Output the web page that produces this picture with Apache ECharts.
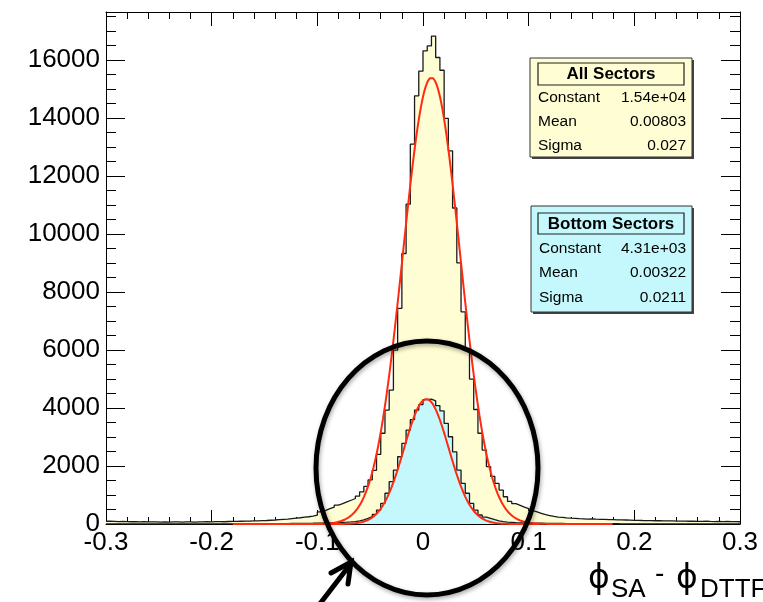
<!DOCTYPE html>
<html>
<head>
<meta charset="utf-8">
<script src="https://cdn.jsdelivr.net/npm/echarts@6/dist/echarts.min.js"></script>
<style>
  html, body { margin: 0; padding: 0; background: #ffffff; }
  #chart { width: 763px; height: 602px; }
</style>
</head>
<body>
<div id="chart"></div>
<script>
// Histogram binning: 150 bins of width 0.004 over [-0.3, 0.3]
const histRange = [-0.3, 0.3];
const nBins = 150;

// Entries per bin, all sectors
const allSectors = [
  95, 88, 80, 92, 85, 78, 82, 75, 80, 72, 70, 76, 68, 72, 65, 70, 74, 66, 70, 72, 68, 75, 70, 78, 74,
  80, 84, 78, 86, 90, 88, 95, 100, 98, 105, 110, 115, 120,
  130, 138, 150, 160, 170, 185, 200,
  215, 235, 250, 275, 310,
  420, 470, 530, 580, 650, 700, 760, 820, 880, 960,
  1110, 1300, 1520, 1850, 2400, 3130, 3930, 4620,
  6000, 7440, 9330, 11030, 13100, 14770, 15620, 16320, 16490, 16830, 16090, 15650, 13990, 12870, 10900, 9010, 7320,
  6050, 5000, 3950, 3130, 2550, 1980, 1640, 1400, 1170, 940, 780, 700, 640, 580, 530, 460, 420, 370, 320, 290, 260,
  240, 225, 210, 200, 195, 185, 180, 170, 172, 165, 160,
  158, 150, 148, 145, 140, 138, 135, 128,
  125, 120, 118, 115, 112, 118, 110, 105, 108, 100, 102, 98, 95, 100, 92, 90, 95, 88, 85, 90, 84, 86, 80, 82, 78
];

// Entries per bin, bottom sectors only
const bottomSectors = [
  2, 1, 3, 0, 2, 1, 2, 3, 1, 2, 2, 3, 1, 2, 3, 2, 3, 4, 2, 3, 3, 4, 3, 5, 4,
  5, 4, 6, 5, 6, 7, 6, 8, 7, 8, 9, 10, 9,
  11, 12, 12, 14, 15, 17, 18,
  20, 22, 25, 27, 30,
  32, 36, 40, 44, 50, 56, 62, 70,
  80, 105, 145, 195, 255, 330, 480, 710, 1060, 1460, 1860, 2320, 2780, 3240, 3600, 3930, 4120,
  4290, 4310, 4250, 4080, 3900, 3470, 3010, 2490, 1860, 1400, 1060, 710, 480, 310, 240, 195, 150, 110, 80,
  62, 55, 48, 42, 38, 34,
  30, 28, 26, 24, 22, 20, 19, 18, 16, 15,
  14, 13, 12, 12, 11, 10, 10, 9, 8, 9, 8, 7, 7, 6, 6,
  5, 6, 5, 4, 5, 4, 4, 3, 4, 3, 3, 4, 2, 3, 2, 3, 2, 2, 3, 1, 2, 2, 1, 2, 1
];

// Gaussian fit results: [constant, mean, sigma] and the fitted x range
const allFitPars = [1.54e4, 0.00803, 0.027];
const allFitRange = [-0.18, 0.18];
const bottomFitPars = [4.31e3, 0.00322, 0.0211];
const bottomFitRange = [-0.12, 0.11];

// Text shown in the statistics boxes
const statNames = ['Constant', 'Mean', 'Sigma'];
const allStatValues = ['1.54e+04', '0.00803', '0.027'];
const bottomStatValues = ['4.31e+03', '0.00322', '0.0211'];

// Axis tick labels
const xTickLabels = ['-0.3', '-0.2', '-0.1', '0', '0.1', '0.2', '0.3'];
const yTickLabels = ['0', '2000', '4000', '6000', '8000', '10000', '12000', '14000', '16000'];

const FONT = '"Liberation Sans", Arial, Helvetica, sans-serif';
const PHI_FONT = '"DejaVu Sans", "Liberation Sans", sans-serif';
const YELLOW = '#fffdd3';
const CYAN = '#c5f8fc';
const FIT_RED = '#ff2a10';

// Step outline points: one point at each bin's lower edge plus the final upper edge
function stepPoints(counts) {
  const w = (histRange[1] - histRange[0]) / nBins;
  const pts = counts.map((c, i) => [histRange[0] + i * w, c]);
  pts.push([histRange[1], counts[counts.length - 1]]);
  return pts;
}

function gaussCurve(pars, range) {
  const pts = [];
  const n = 600;
  for (let k = 0; k <= n; k++) {
    const x = range[0] + (range[1] - range[0]) * k / n;
    const t = (x - pars[1]) / pars[2];
    pts.push([x, pars[0] * Math.exp(-0.5 * t * t)]);
  }
  return pts;
}

function statBox(x, y, w, h, fill, title, values, rowY, titleY, titleRect) {
  const els = [];
  els.push({ type: 'rect', shape: { x: x + 2, y: y + 2, width: w, height: h }, style: { fill: '#444' }, z: 100 });
  els.push({ type: 'rect', shape: { x: x, y: y, width: w, height: h }, style: { fill: fill, stroke: '#333', lineWidth: 1 }, z: 101 });
  els.push({ type: 'rect', shape: titleRect, style: { fill: fill, stroke: '#222', lineWidth: 1.2 }, z: 102 });
  els.push({ type: 'text', x: titleRect.x + titleRect.width / 2, y: titleY, z: 103,
    style: { text: title, font: 'bold 17px ' + FONT, fill: '#000', align: 'center', verticalAlign: 'middle' } });
  statNames.forEach((name, i) => {
    els.push({ type: 'text', x: x + 8, y: rowY[i], z: 103,
      style: { text: name, font: '15.5px ' + FONT, fill: '#000', align: 'left', verticalAlign: 'middle' } });
    els.push({ type: 'text', x: x + w - 6, y: rowY[i], z: 103,
      style: { text: values[i], font: '15.5px ' + FONT, fill: '#000', align: 'right', verticalAlign: 'middle' } });
  });
  return els;
}

const chart = echarts.init(document.getElementById('chart'), null, { renderer: 'canvas' });

const axisLineStyle = { color: '#000', width: 1 };

const option = {
  animation: false,
  backgroundColor: '#ffffff',
  grid: { left: 106, right: 23, top: 12, bottom: 78, containLabel: false },
  xAxis: [
    {
      type: 'value', min: -0.3, max: 0.3, interval: 0.1, position: 'bottom',
      axisLine: { show: true, onZero: false, lineStyle: axisLineStyle },
      axisTick: { show: true, inside: true, length: 14, lineStyle: axisLineStyle },
      minorTick: { show: true, splitNumber: 5, length: 7, lineStyle: axisLineStyle },
      splitLine: { show: false },
      axisLabel: {
        margin: 6, fontSize: 26, fontFamily: FONT, color: '#000',
        formatter: v => xTickLabels[Math.round((v - histRange[0]) / 0.1)] || ''
      }
    },
    {
      type: 'value', min: -0.3, max: 0.3, interval: 0.1, position: 'top',
      axisLine: { show: true, onZero: false, lineStyle: axisLineStyle },
      axisTick: { show: true, inside: true, length: 14, lineStyle: axisLineStyle },
      minorTick: { show: true, splitNumber: 5, length: 7, lineStyle: axisLineStyle },
      splitLine: { show: false },
      axisLabel: { show: false }
    }
  ],
  yAxis: [
    {
      type: 'value', min: 0, max: 17660, interval: 2000, position: 'left',
      axisLine: { show: true, onZero: false, lineStyle: axisLineStyle },
      axisTick: { show: true, inside: true, length: 19, lineStyle: axisLineStyle },
      minorTick: { show: true, splitNumber: 4, length: 10, lineStyle: axisLineStyle },
      splitLine: { show: false },
      axisLabel: {
        margin: 6, fontSize: 26, fontFamily: FONT, color: '#000',
        formatter: v => (v % 2000 === 0 && v / 2000 < yTickLabels.length) ? yTickLabels[v / 2000] : ''
      }
    },
    {
      type: 'value', min: 0, max: 17660, interval: 2000, position: 'right',
      axisLine: { show: true, onZero: false, lineStyle: axisLineStyle },
      axisTick: { show: true, inside: true, length: 19, lineStyle: axisLineStyle },
      minorTick: { show: true, splitNumber: 4, length: 10, lineStyle: axisLineStyle },
      splitLine: { show: false },
      axisLabel: { show: false }
    }
  ],
  series: [
    {
      name: 'All Sectors', type: 'line', step: 'end', data: stepPoints(allSectors),
      symbol: 'none', xAxisIndex: 0, yAxisIndex: 0, z: 2,
      lineStyle: { color: '#1a1a1a', width: 1.3 },
      areaStyle: { color: YELLOW, opacity: 1 }
    },
    {
      name: 'Bottom Sectors', type: 'line', step: 'end', data: stepPoints(bottomSectors),
      symbol: 'none', xAxisIndex: 0, yAxisIndex: 0, z: 3,
      lineStyle: { color: '#1a1a1a', width: 1.3 },
      areaStyle: { color: CYAN, opacity: 1 }
    },
    {
      name: 'All Sectors fit', type: 'line', data: gaussCurve(allFitPars, allFitRange),
      symbol: 'none', xAxisIndex: 0, yAxisIndex: 0, z: 4,
      lineStyle: { color: FIT_RED, width: 2 }
    },
    {
      name: 'Bottom Sectors fit', type: 'line', data: gaussCurve(bottomFitPars, bottomFitRange),
      symbol: 'none', xAxisIndex: 0, yAxisIndex: 0, z: 4,
      lineStyle: { color: FIT_RED, width: 2 }
    }
  ],
  graphic: [
    ...statBox(530, 58, 162, 99, YELLOW, 'All Sectors', allStatValues, [98, 122, 146], 74,
      { x: 538, y: 63, width: 146, height: 22 }),
    ...statBox(531, 206, 161, 106, CYAN, 'Bottom Sectors', bottomStatValues, [249, 273, 298], 224,
      { x: 538, y: 213, width: 146, height: 21 }),
    // axis title
    { type: 'text', x: 588, y: 596, z: 50, style: { text: 'ϕ', font: '33px ' + PHI_FONT, fill: '#000', align: 'left', verticalAlign: 'bottom' } },
    { type: 'text', x: 611, y: 603, z: 50, style: { text: 'SA', font: '26px ' + FONT, fill: '#000', align: 'left', verticalAlign: 'bottom' } },
    { type: 'text', x: 655, y: 588, z: 50, style: { text: '-', font: '28px ' + FONT, fill: '#000', align: 'left', verticalAlign: 'bottom' } },
    { type: 'text', x: 676, y: 596, z: 50, style: { text: 'ϕ', font: '33px ' + PHI_FONT, fill: '#000', align: 'left', verticalAlign: 'bottom' } },
    { type: 'text', x: 700, y: 603, z: 50, style: { text: 'DTTF', font: '26px ' + FONT, fill: '#000', align: 'left', verticalAlign: 'bottom' } },
    // highlight ring around the core region
    { type: 'ellipse', z: 60, shape: { cx: 427, cy: 468, rx: 111, ry: 127 },
      style: { fill: 'none', stroke: '#000', lineWidth: 5, shadowBlur: 4, shadowColor: 'rgba(0,0,0,0.35)', shadowOffsetX: 1, shadowOffsetY: 2 } },
    // pointer arrow
    { type: 'line', z: 60, shape: { x1: 319, y1: 605, x2: 349, y2: 566 },
      style: { stroke: '#000', lineWidth: 5, lineCap: 'butt' } },
    { type: 'polyline', z: 60, shape: { points: [[331, 573], [351, 562], [348, 584]] },
      style: { fill: 'none', stroke: '#000', lineWidth: 5, lineJoin: 'miter', lineCap: 'round' } }
  ]
};

chart.setOption(option);
</script>
</body>
</html>
